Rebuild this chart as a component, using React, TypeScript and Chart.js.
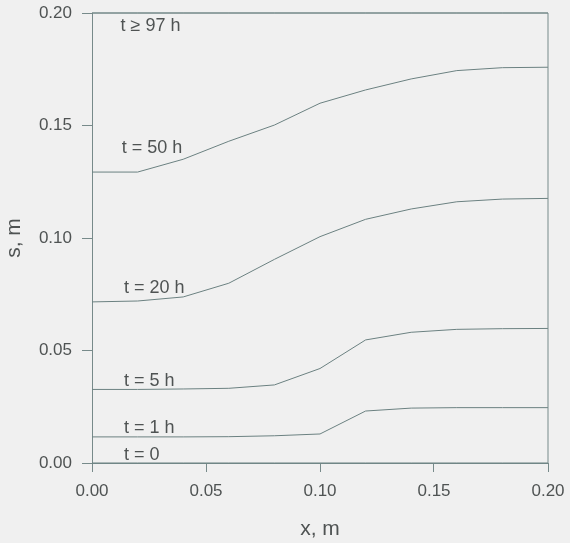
import React, { useEffect, useRef } from "react";
import { Chart, registerables } from "chart.js";

Chart.register(...registerables);

// Position along the sample, m
const xPositions = [0, 0.02, 0.04, 0.06, 0.08, 0.1, 0.12, 0.14, 0.16, 0.18, 0.2];

// Profile s(x), m, at successive times
const s0h = [0, 0, 0, 0, 0, 0, 0, 0, 0, 0, 0];
const s1h = [0.0116, 0.0116, 0.0116, 0.0117, 0.0121, 0.0129, 0.0231, 0.0244, 0.0246, 0.0246, 0.0246];
const s5h = [0.0327, 0.0327, 0.0329, 0.0332, 0.0347, 0.042, 0.0547, 0.0581, 0.0594, 0.0597, 0.0598];
const s20h = [0.0716, 0.072, 0.0738, 0.0799, 0.0905, 0.1006, 0.1083, 0.1129, 0.1161, 0.1173, 0.1176];
const s50h = [0.1293, 0.1293, 0.135, 0.143, 0.1502, 0.1599, 0.1658, 0.1707, 0.1744, 0.1757, 0.1759];
const s97h = [0.2, 0.2, 0.2, 0.2, 0.2, 0.2, 0.2, 0.2, 0.2, 0.2, 0.2];

const seriesNames = ["t = 0", "t = 1 h", "t = 5 h", "t = 20 h", "t = 50 h", "t \u2265 97 h"];
const seriesValues = [s0h, s1h, s5h, s20h, s50h, s97h];

// Curve labels, anchored in data units (x, s)
const labelX = [0.014, 0.014, 0.014, 0.014, 0.013, 0.0125];
const labelY = [0.0036, 0.0156, 0.0364, 0.0778, 0.14, 0.1942];

const xTicks = [0, 0.05, 0.1, 0.15, 0.2];
const yTicks = [0, 0.05, 0.1, 0.15, 0.2];

const FONT = "'Liberation Sans', Arial, sans-serif";
const LINE = "#6b8181";
const AXIS = "#778a8a";
const TEXT = "#4f5353";
const BG = "#f0f0f0";

const curveLabels = {
  id: "curveLabels",
  afterDatasetsDraw(chart: any) {
    const { ctx, scales } = chart;
    ctx.save();
    ctx.font = `18px ${FONT}`;
    ctx.fillStyle = TEXT;
    ctx.textAlign = "left";
    ctx.textBaseline = "middle";
    seriesNames.forEach((name, i) => {
      ctx.fillText(name, scales.x.getPixelForValue(labelX[i]), scales.y.getPixelForValue(labelY[i]));
    });
    ctx.restore();
  },
};

const frame = {
  id: "frame",
  afterDraw(chart: any) {
    const { ctx, chartArea } = chart;
    ctx.save();
    ctx.strokeStyle = AXIS;
    ctx.lineWidth = 1;
    ctx.beginPath();
    ctx.moveTo(chartArea.left, chartArea.top);
    ctx.lineTo(chartArea.right, chartArea.top);
    ctx.lineTo(chartArea.right, chartArea.bottom);
    ctx.stroke();
    ctx.restore();
  },
};

export default function App() {
  const canvasRef = useRef<HTMLCanvasElement | null>(null);

  useEffect(() => {
    document.body.style.margin = "0";
    document.body.style.background = BG;
    const canvas = canvasRef.current;
    if (!canvas) return;
    const chart = new Chart(canvas, {
      type: "line",
      data: {
        datasets: seriesValues.map((vals, i) => ({
          label: seriesNames[i],
          data: vals.map((v, j) => ({ x: xPositions[j], y: v })),
          borderColor: LINE,
          borderWidth: 1,
          pointRadius: 0,
          fill: false,
          tension: 0,
          clip: 4,
        })),
      },
      options: {
        animation: false,
        responsive: false,
        maintainAspectRatio: false,
        layout: { padding: { top: 13, right: 22, left: 0, bottom: 0 } },
        plugins: {
          legend: { display: false },
          tooltip: { enabled: false },
        },
        scales: {
          x: {
            type: "linear",
            min: 0,
            max: 0.2,
            afterBuildTicks: (s: any) => {
              s.ticks = xTicks.map((v) => ({ value: v }));
            },
            afterFit: (s: any) => {
              s.height = 80;
              s.paddingLeft = 0;
              s.paddingRight = 0;
            },
            border: { color: AXIS, width: 1 },
            grid: { drawOnChartArea: false, drawTicks: true, tickLength: 9, color: AXIS },
            ticks: {
              padding: 9,
              color: TEXT,
              font: { family: FONT, size: 17 },
              maxRotation: 0,
              callback: (v: any) => Number(v).toFixed(2),
            },
            title: {
              display: true,
              text: "x, m",
              color: TEXT,
              font: { family: FONT, size: 21 },
              padding: { top: 0, bottom: 1 },
            },
          },
          y: {
            type: "linear",
            min: 0,
            max: 0.2,
            afterBuildTicks: (s: any) => {
              s.ticks = yTicks.map((v) => ({ value: v }));
            },
            afterFit: (s: any) => {
              s.width = 92;
              s.paddingTop = 0;
              s.paddingBottom = 0;
            },
            border: { color: AXIS, width: 1 },
            grid: { drawOnChartArea: false, drawTicks: true, tickLength: 10, color: AXIS },
            ticks: {
              padding: 10,
              color: TEXT,
              font: { family: FONT, size: 17 },
              callback: (v: any) => Number(v).toFixed(2),
            },
            title: {
              display: true,
              text: "s, m",
              color: TEXT,
              font: { family: FONT, size: 21 },
              padding: { top: 2, bottom: 0 },
            },
          },
        },
      },
      plugins: [curveLabels, frame],
    });
    return () => chart.destroy();
  }, []);

  return (
    <div style={{ position: "fixed", left: 0, top: 0, width: 570, height: 543, background: BG }}>
      <canvas ref={canvasRef} width={570} height={543} style={{ display: "block" }} />
    </div>
  );
}
